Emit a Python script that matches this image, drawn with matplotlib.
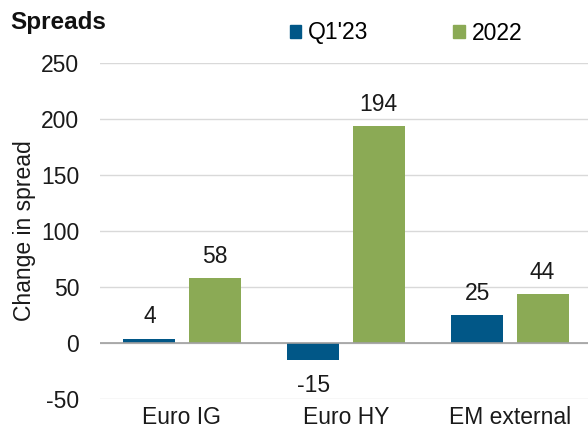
import matplotlib
matplotlib.use("Agg")
import matplotlib.pyplot as plt
import numpy as np
from matplotlib.patches import Patch

plt.rcParams['font.family'] = ['Liberation Sans', 'DejaVu Sans']
plt.rcParams['axes.unicode_minus'] = False

categories = ["Euro IG", "Euro HY", "EM external"]
q1_23 = [4, -15, 25]
y2022 = [58, 194, 44]
series_names = ["Q1'23", "2022"]
yticks = [-50, 0, 50, 100, 150, 200, 250]

blue = "#015787"
green = "#8BAA55"
txt = '#1a1a1a'
fs = 16.5

fig = plt.figure(figsize=(5.88, 4.30), dpi=100)
ax = fig.add_axes([100/588, 1-399/430, 492/588, (399-63)/430])

x = np.arange(len(categories))
w = 0.317
gap = 0.08
b1 = ax.bar(x - (w+gap)/2, q1_23, w, color=blue, zorder=3)
b2 = ax.bar(x + (w+gap)/2, y2022, w, color=green, zorder=3)

for bars, vals in ((b1, q1_23), (b2, y2022)):
    for r, v in zip(bars, vals):
        cx = r.get_x() + r.get_width()/2
        if v >= 0:
            ax.text(cx, v + 13.5, str(v), ha='center', va='baseline', fontsize=fs, color=txt)
        else:
            ax.text(cx, v - 13, str(v), ha='center', va='top', fontsize=fs, color=txt)

ax.set_xlim(-0.5, 2.5)
ax.set_ylim(-50, 250)
ax.set_yticks(yticks)
ax.set_xticks(x)
ax.set_xticklabels(categories)
ax.tick_params(axis='both', length=0, labelsize=fs, colors=txt)
ax.tick_params(axis='y', pad=15)
ax.tick_params(axis='x', pad=5)
ax.grid(axis='y', color='#d9d9d9', linewidth=1, zorder=0)
ax.axhline(0, color='#a0a0a0', linewidth=1.2, zorder=4)
for s in ax.spines.values():
    s.set_visible(False)

ax.set_ylabel("Change in spread", fontsize=fs, color=txt)
ax.yaxis.set_label_coords(-(100-25)/492, 0.5)
ax.yaxis.label.set_va('center')

fig.text(10/588, 1-22/430, "Spreads", fontsize=17.5, fontweight='bold', va='center', ha='left', color='#111111')

handles = [Patch(color=blue), Patch(color=green)]
fig.legend(handles, series_names, loc='center', bbox_to_anchor=(406/588, 1-33/430), ncol=2,
           frameon=False, fontsize=fs, handlelength=0.5, handleheight=0.5, handletextpad=0.3,
           columnspacing=3.7)

fig.savefig("out.png", dpi=100)
